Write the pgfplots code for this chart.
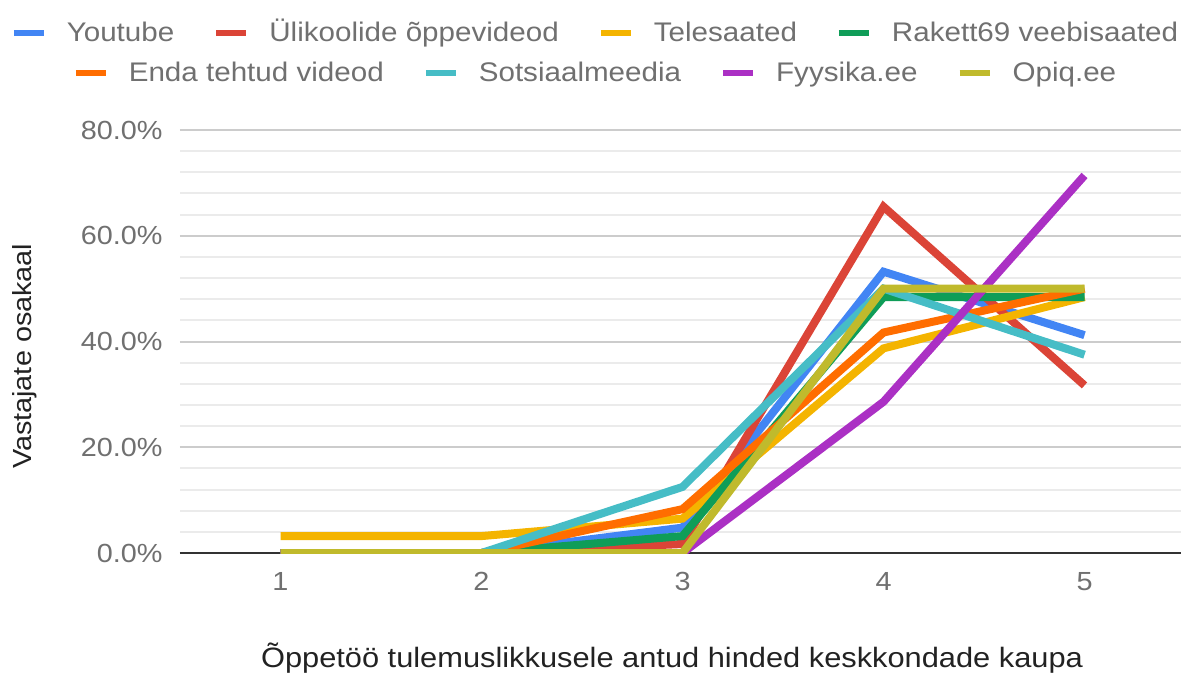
\documentclass[border=0pt]{standalone}
\usepackage{fontspec}
\setmainfont{Liberation Sans}[FakeStretch=1.1]
\usepackage{xcolor}
\usepackage{pgfplots}
\pgfplotsset{compat=1.18}

\definecolor{cBlue}{HTML}{4285F4}
\definecolor{cRed}{HTML}{DB4437}
\definecolor{cYellow}{HTML}{F4B400}
\definecolor{cGreen}{HTML}{0F9D58}
\definecolor{cOrange}{HTML}{FF6D00}
\definecolor{cTeal}{HTML}{46BDC6}
\definecolor{cPurple}{HTML}{AB30C4}
\definecolor{cOlive}{HTML}{C0BA2C}
\definecolor{tickgray}{HTML}{707070}
\definecolor{titlegray}{HTML}{222222}

\newcommand\tf{\fontsize{13.1pt}{15pt}\selectfont}
\newcommand\lf{\fontsize{13.45pt}{15pt}\selectfont}
\newcommand\sw[1]{\textcolor{#1}{\rule[3pt]{15pt}{3pt}}\hspace{11.5pt}}

\begin{document}
\begin{tikzpicture}
\path[use as bounding box] (-90pt,-60.5pt) rectangle (500.5pt,276.5pt);

\begin{axis}[
  at={(0,0)}, anchor=south west,
  scale only axis,
  width=500.5pt, height=211.5pt,
  xmin=0.5, xmax=5.48,
  ymin=0, ymax=80,
  xtick={1,2,3,4,5},
  ytick={0,20,40,60,80},
  yticklabels={0.0\%,20.0\%,40.0\%,60.0\%,80.0\%},
  minor y tick num=4,
  ymajorgrids, yminorgrids,
  major grid style={color=black!20, line width=1pt},
  minor grid style={color=black!8, line width=1pt},
  extra y ticks={0},
  extra y tick labels={},
  extra y tick style={grid=major, major grid style={color=black!80, line width=1.2pt}},
  axis line style={draw=none},
  tick style={draw=none},
  xticklabel style={font=\tf, text=tickgray, anchor=north, inner sep=0pt, yshift=-9.3pt},
  yticklabel style={font=\tf, text=tickgray, anchor=east, inner sep=0pt, xshift=-8.5pt},
  /pgf/number format/assume math mode=true,
  xlabel={Õppetöö tulemuslikkusele antud hinded keskkondade kaupa},
  xlabel style={font=\fontsize{14pt}{16pt}\selectfont, text=titlegray, at={(axis description cs:0.4915,0)}, anchor=base, inner sep=0pt, yshift=-57pt},
  ylabel={Vastajate osakaal},
  ylabel style={font=\tf, text=titlegray, at={(axis description cs:-0.155,0.465)}, anchor=center, inner sep=0pt},
  every axis plot/.append style={line width=4pt, no markers},
]
% Youtube
\addplot[cBlue] coordinates {(1,0) (2,0) (3,4.8) (4,53.2) (5,41.2)};
% Ülikoolide õppevideod
\addplot[cRed] coordinates {(1,0) (2,0) (3,1.7) (4,65.5) (5,31.7)};
% Telesaated
\addplot[cYellow] coordinates {(1,3.2) (2,3.2) (3,6.5) (4,38.7) (5,48.4)};
% Rakett69 veebisaated
\addplot[cGreen] coordinates {(1,0) (2,0) (3,3.2) (4,48.4) (5,48.4)};
% Enda tehtud videod
\addplot[cOrange] coordinates {(1,0) (2,0) (3,8.3) (4,41.7) (5,50.0)};
% Sotsiaalmeedia
\addplot[cTeal] coordinates {(1,0) (2,0) (3,12.5) (4,50.0) (5,37.5)};
% Fyysika.ee
\addplot[cPurple] coordinates {(1,0) (2,0) (3,0) (4,28.6) (5,71.4)};
% Opiq.ee
\addplot[cOlive] coordinates {(1,0) (2,0) (3,0) (4,50.0) (5,50.0)};
\end{axis}

% legend
\node[anchor=base, inner sep=0pt, text=tickgray, font=\lf] at (208pt,255.5pt) {%
\sw{cBlue}Youtube\hspace{21pt}%
\sw{cRed}Ülikoolide õppevideod\hspace{21pt}%
\sw{cYellow}Telesaated\hspace{21pt}%
\sw{cGreen}Rakett69 veebisaated};
\node[anchor=base, inner sep=0pt, text=tickgray, font=\lf] at (208pt,235.5pt) {%
\sw{cOrange}Enda tehtud videod\hspace{21pt}%
\sw{cTeal}Sotsiaalmeedia\hspace{21pt}%
\sw{cPurple}Fyysika.ee\hspace{21pt}%
\sw{cOlive}Opiq.ee};
\end{tikzpicture}
\end{document}
